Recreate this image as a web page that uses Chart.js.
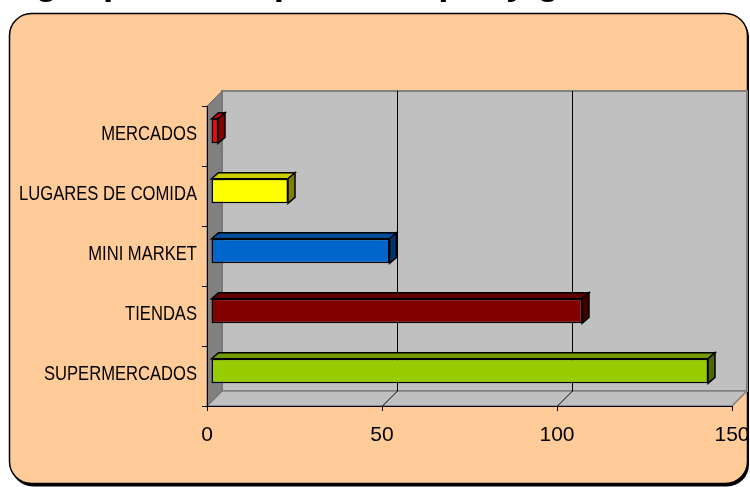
<!DOCTYPE html>
<html>
<head>
<meta charset="utf-8">
<script src="https://cdn.jsdelivr.net/npm/chart.js@4.4.1/dist/chart.umd.min.js"></script>
<style>
  html, body { margin: 0; padding: 0; background: #fff; overflow: hidden; }
  #lienzo { position: absolute; left: 0; top: 0; }
  #titulo {
    position: absolute; left: -10px; top: -37px; white-space: nowrap; z-index: 2;
    font: bold 37px "Liberation Sans", Arial, sans-serif; line-height: 37px; color: #000;
  }
</style>
</head>
<body>
<canvas id="lienzo" width="750" height="487"></canvas>
<div id="titulo">Lugar preferido para compra y gasto</div>
<script>
const categorias = ["MERCADOS", "LUGARES DE COMIDA", "MINI MARKET", "TIENDAS", "SUPERMERCADOS"];
const valores = [2, 22, 51, 106, 142];
const ejeMin = 0;
const ejeMax = 150;
const ejePaso = 50;

// colores de cada barra: cara frontal, superior y lateral
const coloresFrente = ["#FF0000", "#FFFF00", "#0066CC", "#800000", "#99CC00"];
const coloresArriba = ["#C00000", "#CCCC00", "#004C99", "#600000", "#739900"];
const coloresLado = ["#800000", "#808000", "#003366", "#400000", "#4D6600"];

const PROF = 15;          // profundidad de las paredes
const BAR_DX = 7, BAR_DY = 6;
const BAR_OFF_X = 4, BAR_OFF_Y = -5;

function poligono(ctx, pts, relleno, borde, ancho) {
    ctx.beginPath();
    ctx.moveTo(pts[0][0], pts[0][1]);
    for (let i = 1; i < pts.length; i++) ctx.lineTo(pts[i][0], pts[i][1]);
    ctx.closePath();
    if (relleno) { ctx.fillStyle = relleno; ctx.fill(); }
    if (borde) { ctx.strokeStyle = borde; ctx.lineWidth = ancho || 1; ctx.stroke(); }
}

const escena3d = {
    id: "escena3d",
    beforeDraw(chart) {
        const ctx = chart.ctx;
        const { left, right, top, bottom } = chart.chartArea;
        const D = PROF;
        ctx.save();
        // recuadro redondeado de fondo
        ctx.beginPath();
        ctx.roundRect(11, 15.5, 738, 471, 22);
        ctx.fillStyle = "#000";
        ctx.fill();
        ctx.beginPath();
        ctx.roundRect(9.5, 13.5, 738, 470, 22);
        ctx.fillStyle = "#FFCC99";
        ctx.fill();
        ctx.strokeStyle = "#000";
        ctx.lineWidth = 1.5;
        ctx.stroke();

        // pared del fondo
        poligono(ctx, [[left + D, top - D], [right + D, top - D], [right + D, bottom - D], [left + D, bottom - D]], "#C0C0C0", "#808080", 2);
        // suelo
        poligono(ctx, [[left, bottom], [right, bottom], [right + D, bottom - D], [left + D, bottom - D]], "#C0C0C0", "#808080", 1.5);
        // pared izquierda
        poligono(ctx, [[left, top], [left + D, top - D], [left + D, bottom - D], [left, bottom]], "#808080", "#707070", 1);

        // lineas de division
        const sx = chart.scales.x;
        ctx.strokeStyle = "#000";
        ctx.lineWidth = 1;
        sx.ticks.forEach(t => {
            if (t.value === ejeMin || t.value === ejeMax) return;
            const x = Math.round(sx.getPixelForValue(t.value)) + 0.5;
            ctx.beginPath();
            ctx.moveTo(x + D, top - D);
            ctx.lineTo(x + D, bottom - D);
            ctx.moveTo(x, bottom);
            ctx.lineTo(x + D, bottom - D);
            ctx.stroke();
        });
        ctx.restore();
    },
    beforeDatasetsDraw(chart) {
        chart.ctx.save();
        chart.ctx.translate(BAR_OFF_X, BAR_OFF_Y);
    },
    afterDatasetsDraw(chart) {
        const ctx = chart.ctx;
        const meta = chart.getDatasetMeta(0);
        meta.data.forEach((barra, i) => {
            const p = barra.getProps(["x", "y", "base", "height"], true);
            const l = p.base, r = p.x, t = p.y - p.height / 2, b = p.y + p.height / 2;
            poligono(ctx, [[l, t], [l + BAR_DX, t - BAR_DY], [r + BAR_DX, t - BAR_DY], [r, t]], coloresArriba[i], "#000", 1.5);
            poligono(ctx, [[r, t], [r + BAR_DX, t - BAR_DY], [r + BAR_DX, b - BAR_DY], [r, b]], coloresLado[i], "#000", 1.5);
        });
        ctx.restore();
    },
    afterDraw(chart) {
        // etiquetas de categoria, letra estrecha
        const ctx = chart.ctx;
        const sy = chart.scales.y;
        const xDer = sy.right - 10;
        ctx.save();
        ctx.font = "21px 'Liberation Sans', Arial, sans-serif";
        ctx.fillStyle = "#000";
        ctx.textAlign = "right";
        ctx.textBaseline = "middle";
        sy.ticks.forEach((t, i) => {
            const y = sy.getPixelForTick(i) - 2;
            ctx.save();
            ctx.translate(xDer, y);
            ctx.scale(0.79, 1);
            ctx.fillText(sy.getLabelForValue(t.value), 0, 0);
            ctx.restore();
        });
        ctx.restore();
    }
};

new Chart(document.getElementById("lienzo"), {
    type: "bar",
    data: {
        labels: categorias,
        datasets: [{
            data: valores,
            backgroundColor: coloresFrente,
            borderColor: "#000",
            borderWidth: 1.5,
            borderSkipped: false,
            barPercentage: 0.41,
            categoryPercentage: 1
        }]
    },
    options: {
        indexAxis: "y",
        responsive: false,
        animation: false,
        devicePixelRatio: 1,
        layout: { padding: { top: 106, right: 18, bottom: 31, left: 0 } },
        plugins: { legend: { display: false }, tooltip: { enabled: false } },
        scales: {
            x: {
                min: ejeMin,
                max: ejeMax,
                ticks: { stepSize: ejePaso, color: "#000", font: { family: "'Liberation Sans', Arial, sans-serif", size: 21 }, padding: 12, maxRotation: 0 },
                grid: { drawOnChartArea: false, drawTicks: true, tickLength: 5, color: "#000" },
                border: { display: true, color: "#000", width: 1 },
                afterFit(s) { s.height = 50; s.paddingLeft = 0; s.paddingRight = 0; }
            },
            y: {
                ticks: { display: false },
                grid: { drawOnChartArea: false, drawTicks: true, tickLength: 5, color: "#000" },
                border: { display: true, color: "#000", width: 1 },
                afterFit(s) { s.width = 207; }
            }
        }
    },
    plugins: [escena3d]
});
</script>
</body>
</html>
